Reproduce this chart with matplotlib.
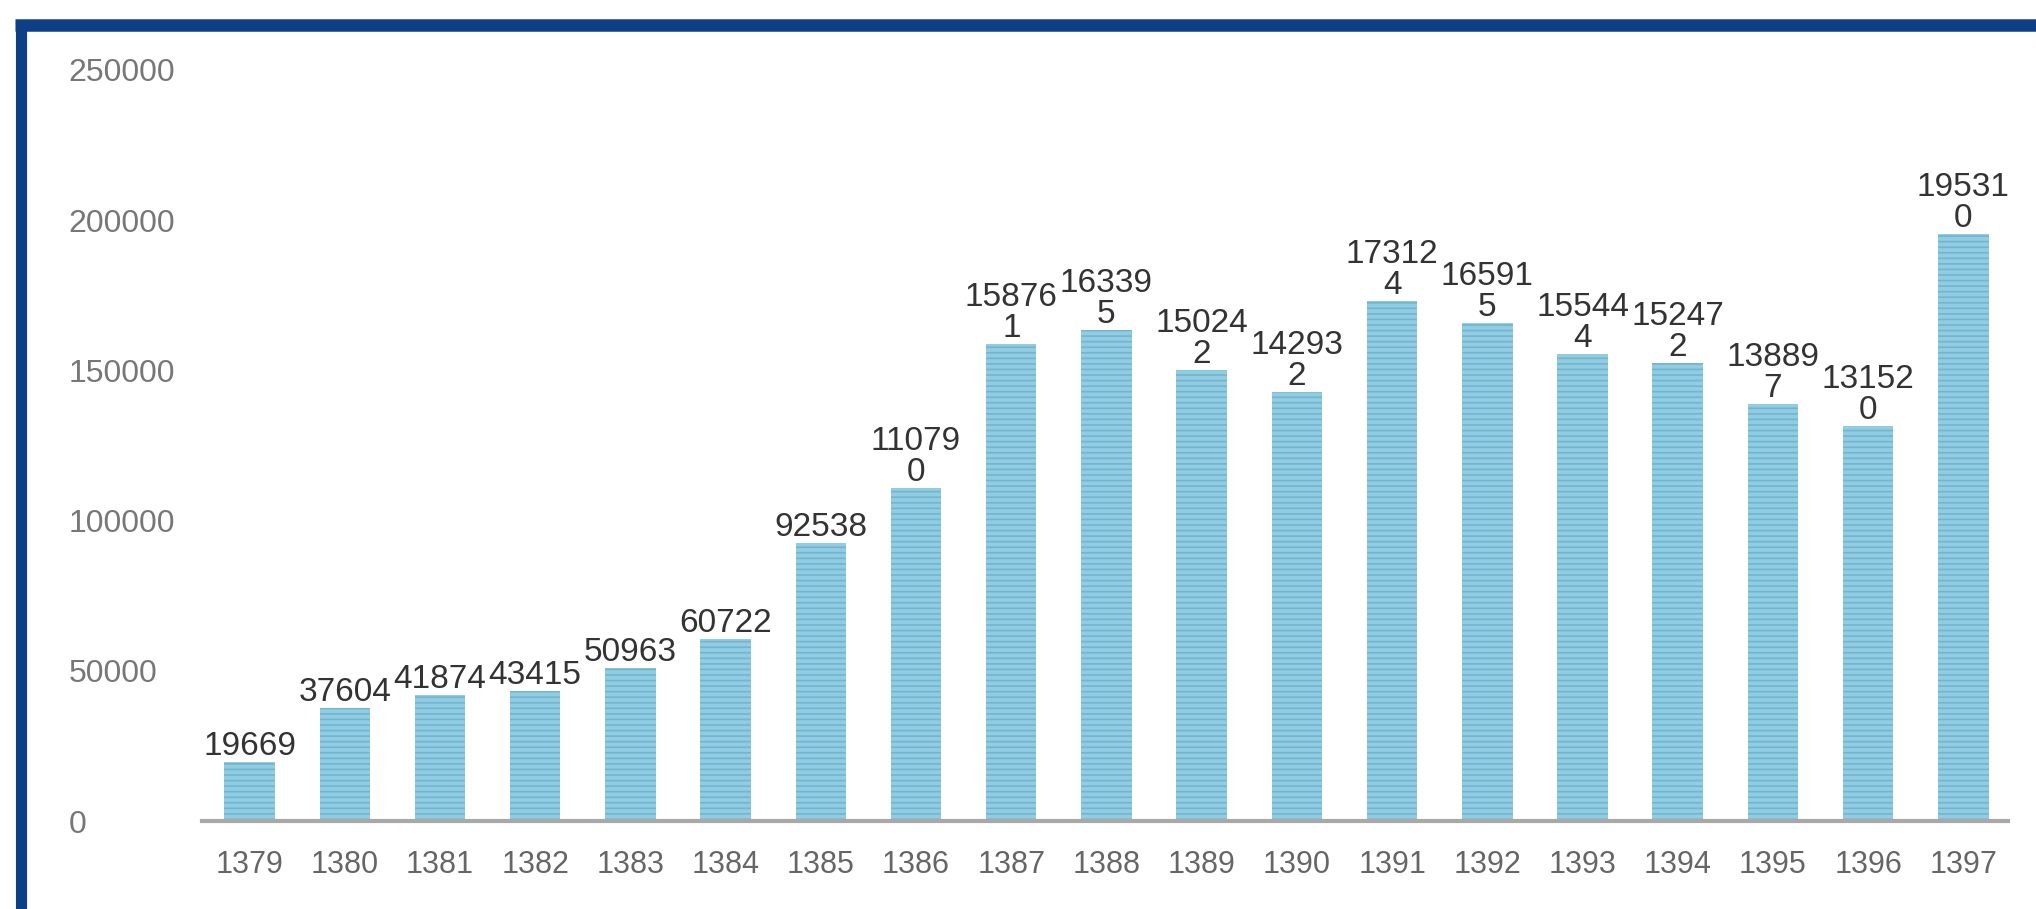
import matplotlib
matplotlib.use("Agg")
import matplotlib.pyplot as plt
from matplotlib.lines import Line2D

years = ["1379", "1380", "1381", "1382", "1383", "1384", "1385", "1386", "1387", "1388",
         "1389", "1390", "1391", "1392", "1393", "1394", "1395", "1396", "1397"]
values = [19669, 37604, 41874, 43415, 50963, 60722, 92538, 110790, 158761, 163395,
          150242, 142932, 173124, 165915, 155444, 152472, 138897, 131520, 195310]
yticks = [0, 50000, 100000, 150000, 200000, 250000]


def wrap_label(v):
    # the original wraps numbers longer than 5 digits onto a second line
    s = str(v)
    if len(s) > 5:
        return s[:5] + "\n" + s[5:]
    return s


plt.rcParams['font.family'] = ['Liberation Sans', 'DejaVu Sans']
plt.rcParams['hatch.linewidth'] = 1.2

fig = plt.figure(figsize=(20.36, 9.09), dpi=100)
fig.patch.set_facecolor('white')
ax = fig.add_axes([0.0992, 0.0968, 0.9863 - 0.0992, 0.923 - 0.0968])
ax.set_facecolor('white')

x = list(range(len(years)))
ax.bar(x, values, width=0.53, color='#90cde2', linewidth=0, zorder=2)
ax.bar(x, values, width=0.53, color='none', edgecolor='#74b4cf', hatch='---',
       linewidth=0, zorder=3)

for xi, v in zip(x, values):
    ax.annotate(wrap_label(v), (xi, v), xytext=(0, 0), textcoords='offset points',
                ha='center', va='bottom', fontsize=24, color='#333333',
                linespacing=1.0, zorder=4)

ax.set_xlim(-0.5, 18.47)
ax.set_ylim(0, 250000)
ax.set_xticks(x)
ax.set_xticklabels(years)
ax.set_yticks(yticks)
ax.set_yticklabels([str(t) for t in yticks])
ax.tick_params(axis='x', length=0, pad=21, labelsize=22, labelcolor='#666666')
ax.tick_params(axis='y', length=0, pad=96, labelsize=23, labelcolor='#777777')
for lab in ax.get_yticklabels():
    lab.set_horizontalalignment('left')

for side in ['top', 'right', 'left']:
    ax.spines[side].set_visible(False)
ax.spines['bottom'].set_color('#a8a8a8')
ax.spines['bottom'].set_linewidth(3)
ax.spines['bottom'].set_zorder(5)

# dark blue frame along the top and left edge of the picture
fig.add_artist(Line2D([0.0074, 1.0], [1 - 25 / 909, 1 - 25 / 909], color='#0d3f86',
                      linewidth=9, solid_capstyle='butt'))
fig.add_artist(Line2D([21 / 2036, 21 / 2036], [0.0, 1 - 20 / 909], color='#0d3f86',
                      linewidth=8, solid_capstyle='butt'))

fig.savefig("out.png", dpi=100, facecolor=fig.get_facecolor())
